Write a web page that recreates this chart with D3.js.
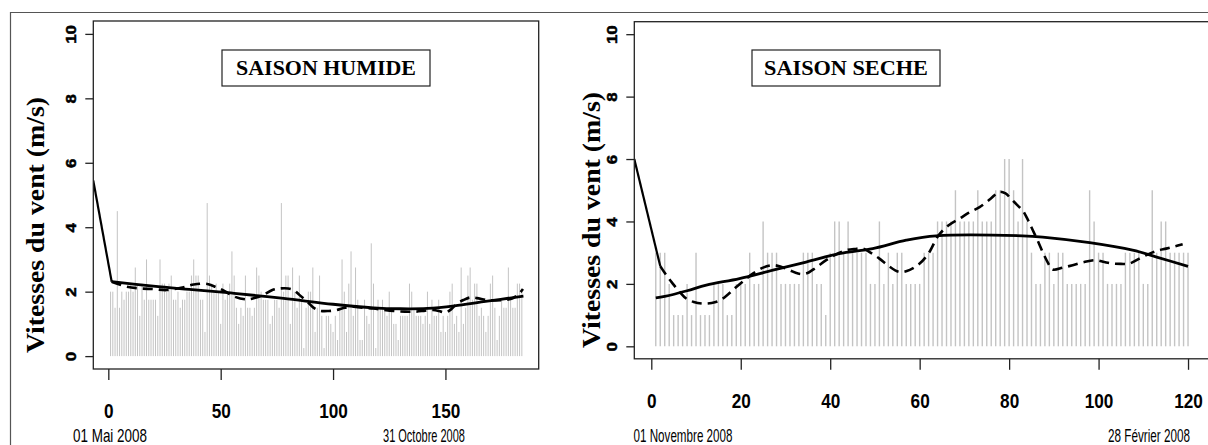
<!DOCTYPE html>
<html>
<head>
<meta charset="utf-8">
<script src="https://cdn.jsdelivr.net/npm/d3@7"></script>
<style>
  body { margin: 0; background: #fff; }
  svg { display: block; }
</style>
</head>
<body>
<svg width="1208" height="445"></svg>
<script>
// vitesses journalieres (m/s), saison humide : 01 mai -> 31 octobre 2008
const humideVitesses = [
  2, 2, 1.5, 4.5, 1.5, 2, 1.75, 2, 2, 2.25,
  2, 2.75, 2.25, 1.25, 2.25, 1.75, 3, 1.75, 1.75, 1.75,
  1.75, 1.25, 3, 2.25, 2.25, 2, 2.25, 2.5, 1.75, 1.75,
  2, 1.5, 1.75, 1.75, 2, 2, 2.5, 3, 2.5, 2.5,
  1.75, 1.75, 0.75, 4.75, 2.5, 2.25, 2, 2.25, 2, 1,
  2.25, 1.75, 2, 2.25, 3.25, 2.5, 1.5, 1, 1.5, 1.25,
  2.5, 1.5, 1.5, 1.25, 1.5, 2.75, 2.5, 2, 1.75, 1.75,
  1.75, 1, 1.25, 1.75, 1.75, 1.5, 4.75, 2, 2.5, 2.5,
  1, 2.75, 2, 1.5, 2.5, 1.75, 0.25, 1.5, 2, 2,
  2.75, 0.75, 1.5, 2.5, 1.25, 0.25, 1.25, 1.25, 1, 0.75,
  1.25, 0.5, 1.5, 3, 2, 0.75, 2.25, 3.25, 1.25, 2.75,
  1.75, 0.5, 0.5, 1.75, 1.25, 1, 3.5, 2.25, 0.25, 1.75,
  1.5, 1.75, 1.5, 1.25, 2, 1.5, 1, 1, 0.5, 1.25,
  1.25, 1.25, 1.25, 2.25, 2, 1.5, 1.25, 1.25, 1.25, 1,
  1.25, 2, 1, 1.75, 1.25, 1.25, 1.75, 0.75, 1.25, 0.75,
  1.25, 2, 2.25, 1, 1.25, 0.75, 2.75, 1, 1.5, 2.5,
  2.75, 1.75, 2.25, 2.25, 1.25, 1.5, 1.25, 0.75, 1.25, 2.25,
  2.5, 1.5, 0.5, 1.25, 1.75, 1.5, 1.5, 2.75, 1.75, 1.5,
  1.5, 2.25, 2.25, 2
];

// vitesses journalieres (m/s), saison seche : 01 novembre 2008 -> 28 fevrier
const secheVitesses = [
  3, 3, 3, 2, 1, 1, 1, 2, 1, 3,
  1, 1, 1, 2, 2, 2, 1, 1, 2, 2,
  2, 3, 2, 2, 4, 3, 3, 3, 2, 2,
  2, 2, 2, 3, 3, 3, 2, 2, 1, 3,
  4, 4, 3, 4, 3, 3, 3, 3, 2, 2,
  4, 2, 3, 2, 3, 3, 2, 2, 2, 2,
  3, 3, 3, 4, 4, 4, 4, 5, 4, 4,
  4, 4, 5, 4, 4, 4, 5, 5, 6, 6,
  5, 4, 6, 4, 3, 2, 2, 3, 3, 2,
  3, 3, 2, 2, 2, 2, 2, 5, 4, 3,
  3, 2, 2, 2, 2, 3, 3, 3, 3, 2,
  2, 5, 3, 4, 4, 3, 3, 3, 3, 3
];

// courbes : [jour, vitesse]
const humideDebut = [[-6.7, 5.45], [1.5, 2.31]];
const humideLisse = [
  [1.5, 2.31], [20, 2.17], [36, 2.07], [56, 1.95], [78, 1.79], [100, 1.61],
  [118, 1.5], [130, 1.47], [142, 1.48], [154, 1.56], [167, 1.69], [184.7, 1.86]
];
const humideMoyenne = [
  [1.5, 2.31], [8, 2.16], [14, 2.1], [20, 2.08], [26, 2.05], [33, 2.13], [38, 2.22],
  [44, 2.24], [48, 2.14], [51, 2.05], [56, 1.85], [61.5, 1.76], [65, 1.8],
  [69, 1.9], [73, 2.05], [76.5, 2.1], [80, 2.1], [82.5, 2.05], [85, 1.9],
  [88.5, 1.69], [91, 1.52], [94, 1.41], [98, 1.4], [101.5, 1.43], [105, 1.5],
  [109, 1.53], [113, 1.5], [118, 1.48], [122, 1.44], [127, 1.4], [132, 1.38],
  [137, 1.38], [141, 1.41], [144.5, 1.43], [148, 1.38], [150, 1.35], [152.5, 1.45],
  [155, 1.62], [158, 1.74], [161, 1.82], [164, 1.8], [168.5, 1.74], [172, 1.73],
  [176, 1.74], [179, 1.77], [181, 1.84], [183, 1.95], [184.5, 2.08]
];

const secheDebut = [[-3.8, 6], [2, 2.57]];
const secheLisse = [
  [1, 1.55], [3, 1.6], [8, 1.78], [12.3, 1.96], [19.7, 2.17], [27.2, 2.44],
  [34.6, 2.7], [42, 2.97], [49.5, 3.13], [57, 3.4], [63.7, 3.54], [83, 3.54],
  [87.5, 3.5], [98, 3.32], [107.6, 3.08], [113, 2.86], [120, 2.56]
];
const secheMoyenne = [
  [2, 2.57], [3.5, 2.25], [4.8, 2.01], [6.3, 1.75], [7.8, 1.53], [9.5, 1.42],
  [11.5, 1.37], [13.5, 1.39], [15.3, 1.47], [17.2, 1.67], [19, 1.9], [21, 2.14],
  [22.7, 2.33], [25, 2.52], [27.2, 2.6], [29, 2.55], [30.9, 2.44], [32.8, 2.33],
  [34.6, 2.33], [36.8, 2.52], [39.1, 2.76], [41.4, 2.95], [43.6, 3.08], [45.5, 3.12],
  [47.3, 3.13], [49, 3.0], [51, 2.81], [53, 2.58], [55.5, 2.38], [57.8, 2.45],
  [60, 2.65], [62, 2.98], [64.2, 3.55], [66.5, 3.88], [68.9, 4.09], [71, 4.28],
  [73.4, 4.46], [75.8, 4.72], [77.8, 4.95], [79.2, 4.9], [80.4, 4.73], [82, 4.5],
  [83, 4.36], [84.2, 4.05], [85.3, 3.72], [86.5, 3.35], [87.5, 3.02], [88.6, 2.7],
  [89.7, 2.46], [92, 2.52], [94.2, 2.6], [96.8, 2.7], [99.4, 2.76], [101.3, 2.7],
  [103.2, 2.65], [105, 2.64], [106.9, 2.65], [109, 2.8], [111.4, 2.97],
  [113.3, 3.07], [115.1, 3.13], [117, 3.2], [118.8, 3.27]
];

const ticksY = [0, 2, 4, 6, 8, 10];
const humideTicksX = [0, 50, 100, 150];
const secheTicksX = [0, 20, 40, 60, 80, 100, 120];
const titres = ["SAISON  HUMIDE", "SAISON SECHE"];
const datesHumide = ["01 Mai 2008", "31 Octobre 2008"];
const datesSeche = ["01 Novembre 2008", "28 Février 2008"];
const titreY = "Vitesses du vent (m/s)";

const sans = "'Liberation Sans', Arial, sans-serif";
const serif = "'Liberation Serif', 'Times New Roman', serif";

const svg = d3.select("svg");

// cadre de la figure
svg.append("path")
  .attr("d", "M10.5,445 V12.5 H1208")
  .attr("fill", "none")
  .attr("stroke", "#555")
  .attr("stroke-width", 1.2);

// texte compresse horizontalement a une largeur donnee
function fitText(sel, cx, cy, width) {
  sel.attr("x", 0).attr("y", 0).attr("text-anchor", "middle");
  const w = sel.node().getComputedTextLength();
  sel.attr("transform", `translate(${cx},${cy}) scale(${width / w},1)`);
}

function panel(opt) {
  const g = svg.append("g");
  const x = d3.scaleLinear().domain(opt.xDomain).range([opt.left, opt.right]);
  const y = d3.scaleLinear().domain([-0.4, 10.4]).range([opt.bottom, opt.top]);
  const clipId = "clip-" + opt.id;

  g.append("clipPath").attr("id", clipId)
    .append("rect")
    .attr("x", opt.left).attr("y", opt.top)
    .attr("width", opt.right - opt.left).attr("height", opt.bottom - opt.top);

  // barres journalieres
  g.append("g")
    .selectAll("line")
    .data(opt.values)
    .join("line")
    .attr("x1", (d, i) => x(i + 1))
    .attr("x2", (d, i) => x(i + 1))
    .attr("y1", y(0))
    .attr("y2", d => y(d))
    .attr("stroke", "#c4c4c4")
    .attr("stroke-width", opt.barWidth);

  const line = d3.line().x(d => x(d[0])).y(d => y(d[1])).curve(d3.curveCatmullRom);
  const lines = g.append("g").attr("clip-path", `url(#${clipId})`)
    .attr("fill", "none").attr("stroke", "#000")
    .attr("stroke-linejoin", "round");

  lines.append("path").attr("d", d3.line().x(d => x(d[0])).y(d => y(d[1]))(opt.debut))
    .attr("stroke-width", 2.2);
  lines.append("path").attr("d", line(opt.lisse))
    .attr("stroke-width", 2.8);
  lines.append("path").attr("d", line(opt.moyenne))
    .attr("stroke-width", 2.6)
    .attr("stroke-dasharray", "10,6");

  // boite du graphique
  g.append("rect")
    .attr("x", opt.left).attr("y", opt.top)
    .attr("width", opt.right - opt.left).attr("height", opt.bottom - opt.top)
    .attr("fill", "none").attr("stroke", "#222").attr("stroke-width", 1.3);

  // axe x
  const ax = g.append("g")
    .attr("transform", `translate(0,${opt.bottom})`)
    .call(d3.axisBottom(x).tickValues(opt.ticksX).tickSize(11).tickPadding(0));
  ax.select(".domain").remove();
  ax.selectAll(".tick line").attr("stroke", "#222").attr("stroke-width", 1.3);
  ax.selectAll(".tick text")
    .attr("y", 0).attr("dy", 0)
    .attr("transform", "translate(0,49) scale(0.86,1)")
    .style("font-family", sans)
    .style("font-weight", "bold")
    .style("font-size", "20px")
    .attr("fill", "#000");

  // axe y
  const ay = g.append("g")
    .attr("transform", `translate(${opt.left},0)`)
    .call(d3.axisLeft(y).tickValues(ticksY).tickSize(8));
  ay.select(".domain").remove();
  ay.selectAll(".tick line").attr("stroke", "#222").attr("stroke-width", 1.3);
  ay.selectAll(".tick text")
    .attr("x", 0).attr("dy", 0)
    .attr("text-anchor", "middle")
    .attr("transform", "translate(-17,0) rotate(-90) scale(1.12,1)")
    .style("font-family", sans)
    .style("font-weight", "bold")
    .style("font-size", "15px")
    .style("stroke", "#000")
    .style("stroke-width", 0.5)
    .attr("fill", "#000");

  // titre de l'axe y
  g.append("text")
    .attr("transform", `translate(${opt.labelX},${opt.labelY}) rotate(-90)`)
    .attr("text-anchor", "middle")
    .attr("textLength", 256)
    .attr("lengthAdjust", "spacingAndGlyphs")
    .style("font-family", serif)
    .style("font-weight", "bold")
    .style("font-size", "26px")
    .text(titreY);

  // cartouche du titre
  g.append("rect")
    .attr("x", opt.boxX).attr("y", 50)
    .attr("width", opt.boxW).attr("height", 36)
    .attr("fill", "#fff").attr("stroke", "#222").attr("stroke-width", 1.2);
  g.append("text")
    .style("font-family", serif)
    .style("font-weight", "bold")
    .style("font-size", "21px")
    .text(opt.titre)
    .call(fitText, opt.boxX + opt.boxW / 2, 75, opt.titleW);

  // dates de debut et de fin
  opt.dates.forEach((d, i) => {
    g.append("text")
      .style("font-family", sans)
      .style("font-size", "18px")
      .text(d)
      .call(fitText, opt.dateX[i], 442, opt.dateW[i]);
  });
}

panel({
  id: "humide", values: humideVitesses, debut: humideDebut,
  lisse: humideLisse, moyenne: humideMoyenne, ticksX: humideTicksX,
  xDomain: [-6.68, 191.5], left: 93.3, right: 538.7, top: 21, bottom: 369,
  barWidth: 1, labelX: 44, labelY: 225, boxX: 222, boxW: 208, titleW: 180,
  titre: titres[0], dates: datesHumide, dateX: [110, 424], dateW: [74, 82]
});

panel({
  id: "seche", values: secheVitesses, debut: secheDebut,
  lisse: secheLisse, moyenne: secheMoyenne, ticksX: secheTicksX,
  xDomain: [-3.8, 124.8], left: 634.3, right: 1209.5, top: 21.7, bottom: 358.8,
  barWidth: 1.4, labelX: 600, labelY: 220, boxX: 752, boxW: 188, titleW: 164,
  titre: titres[1], dates: datesSeche, dateX: [683, 1149], dateW: [99, 82]
});
</script>
</body>
</html>
